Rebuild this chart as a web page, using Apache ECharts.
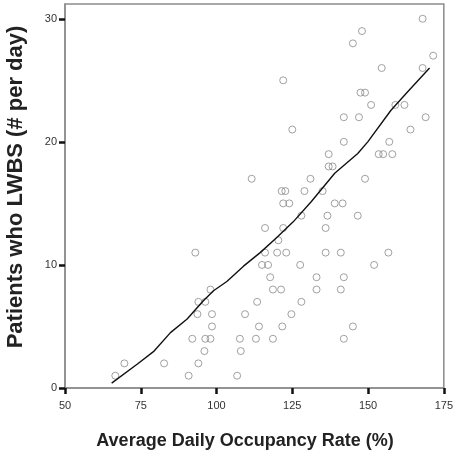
<!DOCTYPE html>
<html>
<head>
<meta charset="utf-8">
<script src="https://cdn.jsdelivr.net/npm/echarts@6/dist/echarts.min.js"></script>
<style>
html,body{margin:0;padding:0;background:#fff;}
#chart{width:456px;height:450px;}
</style>
</head>
<body>
<div id="chart"></div>
<script>
// Average daily occupancy rate (%) for each day
var occupancy = [
  122, 125, 111.6, 131, 121.5, 122.7, 129, 135,
  168, 148, 145, 171.5, 154.5, 168, 147.5, 149, 151, 159, 162, 142, 147, 169, 164, 142, 157,
  137, 153.5, 155, 158, 137, 138.3, 149,
  69.6, 66.6, 82.7, 90.8,
  122, 124, 128, 116, 122, 120.4, 93, 116, 120, 123, 115, 117, 127.6, 117.7, 118.6, 121.3, 98,
  94, 96.3, 113.4, 128, 93.7, 98.5, 109.4, 124.7, 98.5, 114, 121.7, 92, 96.3, 98, 107.7, 113,
  118.6, 96, 108, 94, 106.8,
  139, 141.6, 136.6, 146.6, 136, 136, 141, 156.7, 152, 133, 142, 133, 141, 145, 142
];
// Patients who LWBS (# per day), same order
var lwbs = [
  25, 21, 17, 17, 16, 16, 16, 16,
  30, 29, 28, 27, 26, 26, 24, 24, 23, 23, 23, 22, 22, 22, 21, 20, 20,
  19, 19, 19, 19, 18, 18, 17,
  2, 1, 2, 1,
  15, 15, 14, 13, 13, 12, 11, 11, 11, 11, 10, 10, 10, 9, 8, 8, 8,
  7, 7, 7, 7, 6, 6, 6, 6, 5, 5, 5, 4, 4, 4, 4, 4,
  4, 3, 3, 2, 1,
  15, 15, 14, 14, 13, 11, 11, 11, 10, 9, 9, 8, 8, 5, 4
];
// Fit line
var fitX = [65.4, 73.9, 79.4, 84.8, 90.3, 95.5, 99.0, 103.4, 108.9, 114.4, 119.8, 125.3, 131.3, 139.0, 146.6, 149.9, 157.5, 163.0, 170.3];
var fitY = [0.4, 1.95, 3.0, 4.5, 5.6, 7.05, 7.9, 8.65, 9.9, 11.0, 12.2, 13.5, 15.15, 17.45, 19.05, 20.0, 22.55, 24.05, 26.0];

var xTicks = [50, 75, 100, 125, 150, 175];
var yTicks = [0, 10, 20, 30];

var xTitle = 'Average Daily Occupancy Rate (%)';
var yTitle = 'Patients who LWBS (# per day)';

var points = occupancy.map(function (v, i) { return [v, lwbs[i]]; });
var fit = fitX.map(function (v, i) { return [v, fitY[i]]; });

var chart = echarts.init(document.getElementById('chart'), null, {renderer: 'canvas'});
var labelFont = {color: '#333', fontSize: 11, fontFamily: 'Liberation Sans, Arial, sans-serif'};

chart.setOption({
  animation: false,
  backgroundColor: '#fff',
  grid: {left: 65, right: 9, top: 4, bottom: 62, show: true, borderColor: '#8c8c8c', borderWidth: 1.5, backgroundColor: 'transparent'},
  xAxis: {
    type: 'value', min: 50, max: 175, interval: 25,
    axisLine: {show: true, lineStyle: {color: '#8c8c8c', width: 1.5}},
    axisTick: {show: true, length: 6, lineStyle: {color: '#111', width: 2.5}, customValues: xTicks},
    axisLabel: Object.assign({margin: 12, customValues: xTicks}, labelFont),
    splitLine: {show: false}
  },
  yAxis: {
    type: 'value', min: 0, max: 31.2, interval: 10,
    axisLine: {show: true, lineStyle: {color: '#8c8c8c', width: 1.5}},
    axisTick: {show: true, length: 6, lineStyle: {color: '#111', width: 2.5}, customValues: yTicks},
    axisLabel: Object.assign({margin: 8, customValues: yTicks}, labelFont),
    splitLine: {show: false}
  },
  graphic: [
    {type: 'text', x: 0, y: 0, style: {text: xTitle, x: 245, y: 441, textAlign: 'center', textVerticalAlign: 'middle', font: 'bold 18px "Liberation Sans", Arial, sans-serif', fill: '#222'}},
    {type: 'text', x: 16, y: 187, rotation: Math.PI / 2, style: {text: yTitle, x: 0, y: 0, textAlign: 'center', textVerticalAlign: 'middle', font: 'bold 22px "Liberation Sans", Arial, sans-serif', fill: '#222'}}
  ],
  series: [
    {
      type: 'scatter', data: points, symbol: 'circle', symbolSize: 7,
      itemStyle: {color: 'rgba(255,255,255,0)', borderColor: '#8a8a8a', borderWidth: 1},
      emphasis: {disabled: true}
    },
    {
      type: 'line', data: fit, showSymbol: false, smooth: false,
      lineStyle: {color: '#111', width: 1.4}, z: 5
    }
  ]
});
</script>
</body>
</html>
